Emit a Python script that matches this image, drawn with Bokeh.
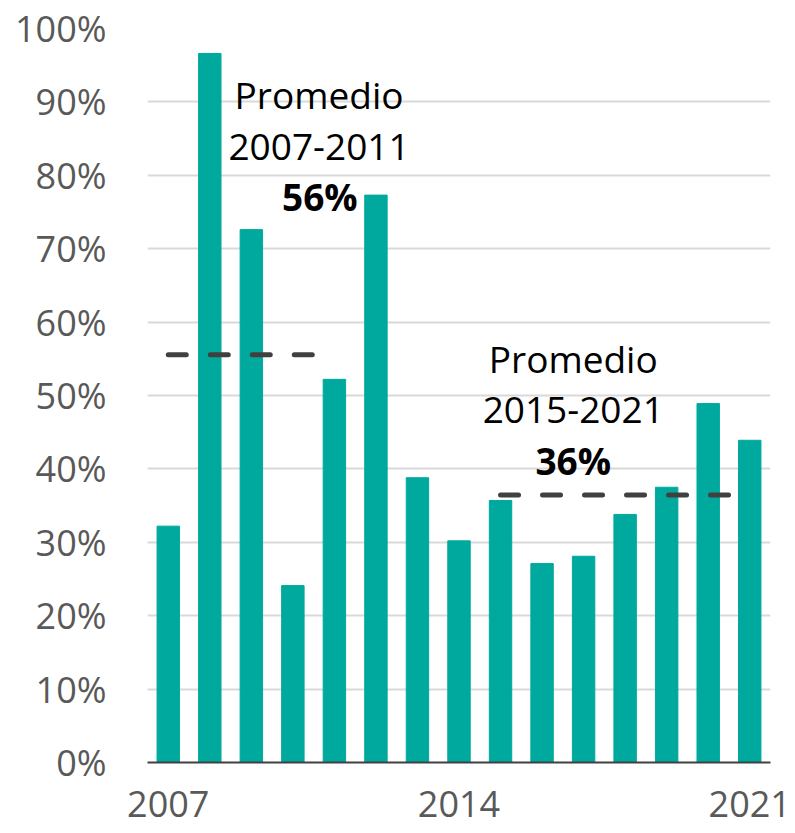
from bokeh.plotting import figure
from bokeh.models import FixedTicker, NumeralTickFormatter, Range1d
from bokeh.core.properties import value
from bokeh.embed import file_html
from bokeh.resources import INLINE
import numpy as np

# ---- data ----
years = [2007, 2008, 2009, 2010, 2011, 2012, 2013, 2014, 2015, 2016, 2017, 2018, 2019, 2020, 2021]
shares = [0.322, 0.966, 0.726, 0.241, 0.522, 0.773, 0.388, 0.302, 0.357, 0.271, 0.281, 0.338, 0.375, 0.489, 0.439]
y_ticks = [0.0, 0.1, 0.2, 0.3, 0.4, 0.5, 0.6, 0.7, 0.8, 0.9, 1.0]
x_ticks = [2007, 2014, 2021]
period1 = (2007, 2011)
period2 = (2015, 2021)

FONT = "Open Sans"
BAR = "#00A99D"
DARK = "#404040"
GRAY = "#595959"

def avg(period):
    vals = [s for y, s in zip(years, shares) if period[0] <= y <= period[1]]
    return float(np.mean(vals))

p = figure(width=795, height=833, output_backend="svg", toolbar_location=None,
           x_range=Range1d(2006.5, 2021.5), y_range=Range1d(0, 1),
           min_border_left=147, min_border_right=25, min_border_top=28, min_border_bottom=71)
p.outline_line_color = None
p.background_fill_color = "white"
p.border_fill_color = "white"

p.vbar(x=years, top=shares, width=0.54, color=BAR, line_color=BAR)

for per in (period1, period2):
    a = avg(per)
    p.line(x=list(per), y=[a, a], line_color=DARK, line_width=5,
           line_dash="18 24", line_cap="round")

# annotations (text centres)
ann = [
    (2010.63, 0.9100, "Promedio", "normal"),
    (2010.63, 0.8390, f"{period1[0]}-{period1[1]}", "normal"),
    (2010.65, 0.7710, f"{round(avg(period1)*100):.0f}%", "bold"),
    (2016.75, 0.5510, "Promedio", "normal"),
    (2016.75, 0.4805, f"{period2[0]}-{period2[1]}", "normal"),
    (2016.75, 0.4110, f"{round(avg(period2)*100):.0f}%", "bold"),
]
for x, y, t, w in ann:
    p.text(x=[x], y=[y], text=[t], text_font=value(FONT), text_font_size="37px",
           text_font_style=w, text_color="black", text_align="center",
           text_baseline="middle")

# y axis
p.yaxis.ticker = FixedTicker(ticks=y_ticks)
p.yaxis.formatter = NumeralTickFormatter(format="0%")
p.yaxis.axis_line_color = None
p.yaxis.major_tick_line_color = None
p.yaxis.minor_tick_line_color = None
p.yaxis.major_label_text_font = FONT
p.yaxis.major_label_text_font_size = "36px"
p.yaxis.major_label_text_color = GRAY
p.yaxis.major_label_standoff = 35

# x axis
p.xaxis.ticker = FixedTicker(ticks=x_ticks)
p.xaxis.major_label_overrides = {t: str(t) for t in x_ticks}
p.xaxis.axis_line_color = DARK
p.xaxis.axis_line_width = 2
p.xaxis.major_tick_line_color = None
p.xaxis.minor_tick_line_color = None
p.xaxis.major_label_text_font = FONT
p.xaxis.major_label_text_font_size = "36px"
p.xaxis.major_label_text_color = GRAY
p.xaxis.major_label_standoff = 22

p.xgrid.grid_line_color = None
p.ygrid.grid_line_color = "#D9D9D9"
p.ygrid.grid_line_width = 2

open("out.html", "w").write(file_html(p, INLINE))
